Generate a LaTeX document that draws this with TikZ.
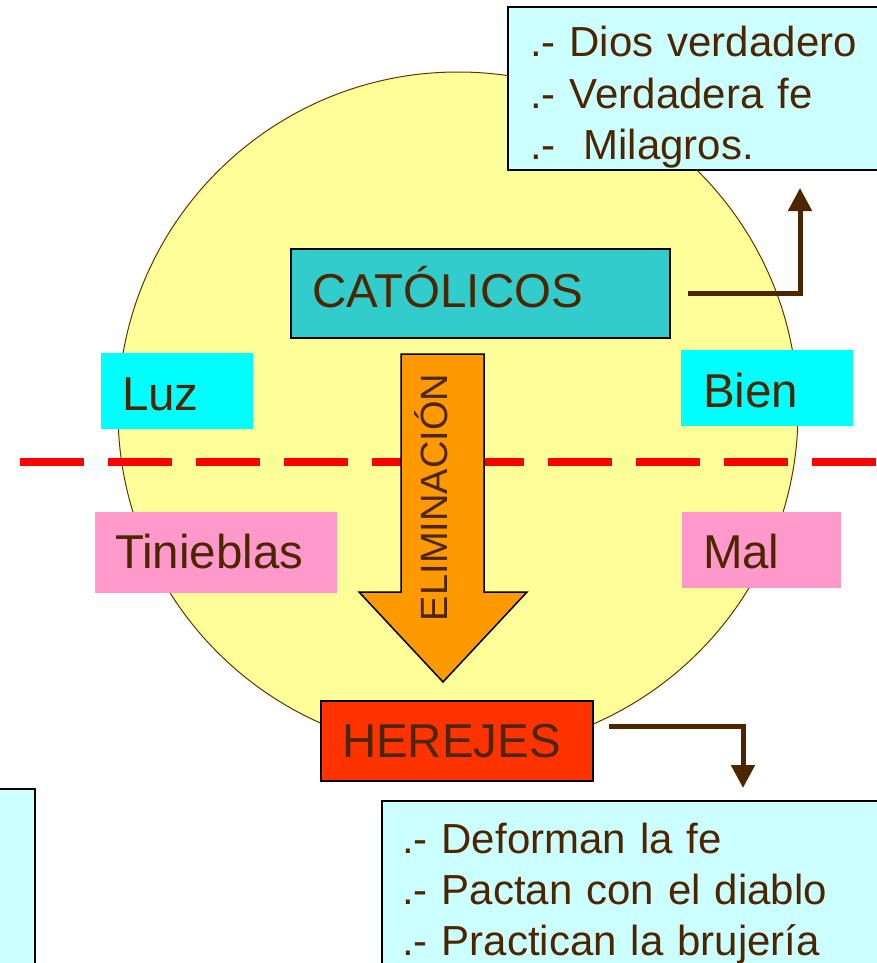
\documentclass[tikz,border=0pt]{standalone}
\usepackage{fontspec}
\setmainfont{Liberation Sans}
\usetikzlibrary{arrows.meta,calc}
\definecolor{txtbrown}{HTML}{4D2600}
\definecolor{circfill}{HTML}{FFFF99}
\definecolor{circline}{HTML}{663300}
\definecolor{lightcyan}{HTML}{CCFFFF}
\definecolor{catteal}{HTML}{33CCCC}
\definecolor{boxcyan}{HTML}{00FFFF}
\definecolor{boxpink}{HTML}{FF99CC}
\definecolor{herred}{HTML}{FF3300}
\definecolor{elimorange}{HTML}{FF9900}
\begin{document}
\begin{tikzpicture}[x=1pt,y=-1pt,
  every node/.style={outer sep=0pt, inner ysep=0pt, text=txtbrown, align=left, anchor=north west},
  labelfont/.style={font=\fontsize{47.5}{55}\selectfont},
  listfont/.style={font=\fontsize{42}{51.5}\selectfont},
  framed/.style={draw=black, line width=1.5pt},
  conn/.style={draw=txtbrown, line width=5pt, -{Triangle[width=23pt,length=23pt]}},
]
\useasboundingbox (0,0) rectangle (877,963);
\clip (0,0) rectangle (877,963);
\fill[white] (0,0) rectangle (877,963);
% big circle
\draw[circline, fill=circfill, line width=1pt] (458,412) circle[radius=340pt];
% dashed divider
\draw[red, line width=8pt, dash pattern=on 64pt off 24pt] (20,462) -- (900,462);
% boxes
\node[framed, fill=lightcyan, listfont, inner xsep=22pt, text width=348pt, text height=50pt, text depth=113pt] (good) at (508,7)
  {.- Dios verdadero\\.- Verdadera fe\\.-\ \ Milagros.};
\node[framed, fill=catteal, labelfont, inner xsep=21pt, text width=337pt, text height=58pt, text depth=31pt] (cat) at (291,249) {CATÓLICOS};
\node[fill=boxcyan, labelfont, inner xsep=21pt, text width=110pt, text height=57pt, text depth=19pt] (luz) at (101,353) {Luz};
\node[fill=boxcyan, labelfont, inner xsep=22pt, text width=128pt, text height=57pt, text depth=19pt] (bien) at (681,350) {Bien};
\node[fill=boxpink, labelfont, inner xsep=20pt, text width=202pt, text height=56pt, text depth=25pt] (tin) at (95,512) {Tinieblas};
\node[fill=boxpink, labelfont, inner xsep=21pt, text width=117pt, text height=56pt, text depth=20pt] (mal) at (682,512) {Mal};
\node[framed, fill=herred, labelfont, inner xsep=21pt, text width=230pt, text height=56pt, text depth=24pt] (her) at (321,701) {HEREJES};
\node[framed, fill=lightcyan, font=\fontsize{42}{51}\selectfont, inner xsep=20pt, text width=478pt, text height=52pt, text depth=147pt] (bad) at (382,801)
  {.- Deforman la fe\\.- Pactan con el diablo\\.- Practican la brujería};
\node[framed, fill=lightcyan, inner sep=0pt, minimum width=95pt, minimum height=250pt] (leftbox) at (-60,789) {};
% elimination arrow
\draw[black, line width=1.5pt, fill=elimorange] (401,354) -- (484,354) -- (484,592) -- (527,592) -- (443,682) -- (359,592) -- (401,592) -- cycle;
\node[rotate=90, anchor=base, font=\fontsize{38}{42}\selectfont, inner sep=0pt] (elim) at (447,497.5) {ELIMINACIÓN};
% connectors
\draw[conn] ([xshift=18pt]cat.east) -| ($(good.south west)+(292,18)$);
\draw[conn] ([xshift=16pt,yshift=15pt]her.east) -| ($(bad.north west)+(361,-13)$);
\end{tikzpicture}
\end{document}
